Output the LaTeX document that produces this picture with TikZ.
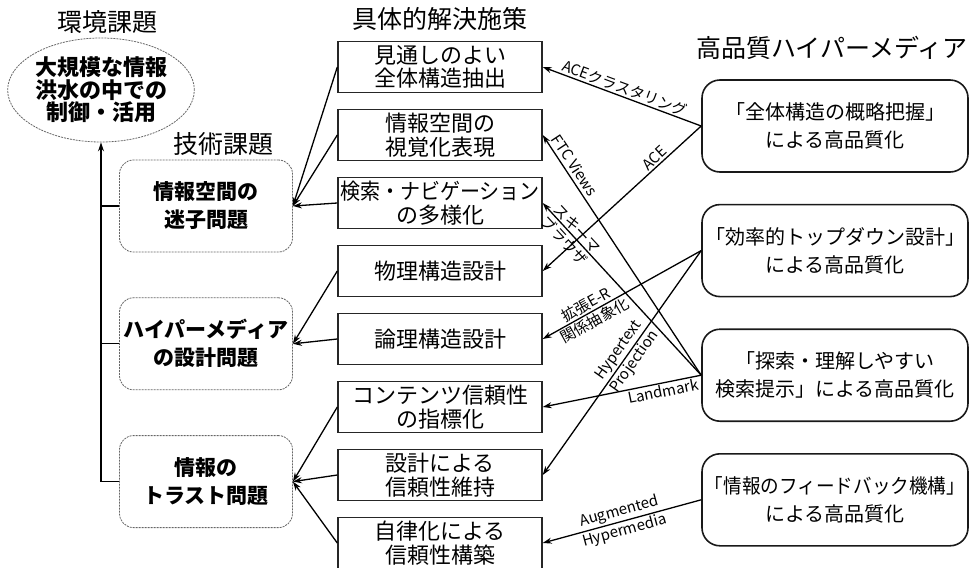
\documentclass[tikz,border=0pt]{standalone}
\usepackage{fontspec}
\setmainfont{Noto Sans CJK JP}
\usetikzlibrary{positioning}
\usetikzlibrary{arrows.meta}
\usetikzlibrary{shapes.geometric}

\begin{document}
\begin{tikzpicture}[
	x=1pt, y=1pt,
	node distance=15.6pt,
	title/.style={font=\fontsize{25}{28}\selectfont, inner sep=2pt},
	envgoal/.style={ellipse, draw=black!60, dash pattern=on 2pt off 1pt, thick, minimum width=184pt, minimum height=104pt, inner sep=0pt, font=\bfseries\fontsize{22}{22.5}\selectfont, align=center},
	issuebox/.style={rectangle, rounded corners=14pt, draw=black!60, dash pattern=on 2pt off 1pt, thick, minimum width=173pt, minimum height=92pt, inner sep=0pt, font=\bfseries\fontsize{21}{28}\selectfont, align=center},
	measurebox/.style={rectangle, draw=black!85, line width=1.4pt, minimum width=204pt, minimum height=51pt, inner sep=1pt, font=\fontsize{22}{23.5}\selectfont, align=center},
	qualitybox/.style={rectangle, rounded corners=18pt, draw=black!90, line width=1.6pt, minimum width=266pt, minimum height=92pt, inner sep=1pt, font=\fontsize{20}{28}\selectfont, align=center},
	arrow/.style={-{Stealth[length=9pt,width=6pt]}, line width=1.3pt},
	link/.style={line width=1.3pt},
	tag/.style={font=\fontsize{15}{16}\selectfont, inner sep=1.5pt, sloped}
]
\useasboundingbox (0,0) rectangle (970,-568);

\node[envgoal] (flood) at (101,-90) {大規模な情報\\洪水の中での\\制御・活用};
\node[issuebox] (lost) at (206,-206) {情報空間の\\迷子問題};
\node[issuebox, below=45pt of lost] (design) {ハイパーメディア\\の設計問題};
\node[issuebox, below=45pt of design] (trust) {情報の\\トラスト問題};

\node[measurebox] (vision) at (440,-67) {見通しのよい\\全体構造抽出};
\node[measurebox, below=of vision] (visual) {情報空間の\\視覚化表現};
\node[measurebox, below=of visual] (navi) {\scalebox{0.91}[1]{検索・ナビゲーション}\\の多様化};
\node[measurebox, below=of navi] (physical) {物理構造設計};
\node[measurebox, below=of physical] (logical) {論理構造設計};
\node[measurebox, below=of logical] (index) {コンテンツ信頼性\\の指標化};
\node[measurebox, below=of index] (keep) {設計による\\信頼性維持};
\node[measurebox, below=of keep] (build) {自律化による\\信頼性構築};

\node[qualitybox] (overview) at (835,-126) {「全体構造の概略把握」\\による高品質化};
\node[qualitybox, below=31pt of overview] (topdown) {「効率的トップダウン設計」\\による高品質化};
\node[qualitybox, below=31pt of topdown] (search) {「探索・理解しやすい\\検索提示」による高品質化};
\node[qualitybox, below=31pt of search] (feedback) {\scalebox{0.93}[1]{「情報のフィードバック機構」}\\による高品質化};

\node[title, above=2pt of flood, xshift=6pt] (envtitle) {環境課題};
\node[title, above=2pt of lost, xshift=17pt] (techtitle) {技術課題};
\node[title, above=8pt of vision] (measuretitle) {具体的解決施策};
\node[title, above=17pt of overview, xshift=-3pt] (qualitytitle) {高品質ハイパーメディア};

\draw[arrow] (trust.west) -| (flood.south);
\draw[link] (lost.west) -- (lost.west -| flood.south);
\draw[link] (design.west) -- (design.west -| flood.south);

\draw[arrow] (vision.west) -- (lost.east);
\draw[arrow] (visual.west) -- (lost.east);
\draw[arrow] (navi.west) -- (lost.east);
\draw[arrow] (physical.west) -- (design.east);
\draw[arrow] (logical.west) -- (design.east);
\draw[arrow] (index.west) -- (trust.east);
\draw[arrow] (keep.west) -- (trust.east);
\draw[arrow] (build.west) -- (trust.east);

\draw[arrow] (overview.west) -- (vision.east) node[tag, midway, above] {ACEクラスタリング};
\draw[arrow] (overview.west) -- (physical.east) node[tag, pos=0.26, above] {ACE};
\draw[arrow] (search.west) -- (visual.east) node[tag, pos=0.85, above=2pt] {FTC Views};
\draw[arrow] (search.west) -- (navi.east) node[tag, pos=0.82, above] {スキーマ} node[tag, pos=0.82, below] {ブラウザ};
\draw[arrow] (topdown.west) -- (logical.east) node[tag, pos=0.7, above] {拡張E-R} node[tag, pos=0.7, below] {関係抽象化};
\draw[arrow] (topdown.west) -- (keep.east) node[tag, pos=0.47, above] {Hypertext} node[tag, pos=0.47, below] {Projection};
\draw[arrow] (search.west) -- (index.east) node[tag, pos=0.25, below] {Landmark};
\draw[arrow] (feedback.west) -- (build.east) node[tag, midway, above] {Augmented} node[tag, midway, below] {Hypermedia};

\end{tikzpicture}
\end{document}
